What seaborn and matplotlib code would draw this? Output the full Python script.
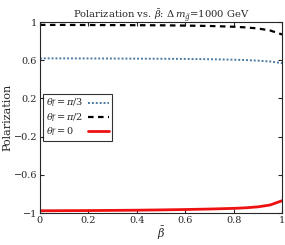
import matplotlib
matplotlib.use("Agg")
import matplotlib.pyplot as plt
import seaborn as sns
import pandas as pd

# data
beta = [0.0, 0.1, 0.2, 0.3, 0.4, 0.5, 0.6, 0.7, 0.8, 0.85, 0.9, 0.95, 1.0]
pol_pi3 = [0.62, 0.62, 0.619, 0.618, 0.617, 0.616, 0.614, 0.611, 0.606, 0.602, 0.596, 0.587, 0.57]
pol_pi2 = [0.97, 0.97, 0.969, 0.968, 0.967, 0.966, 0.963, 0.959, 0.951, 0.944, 0.933, 0.912, 0.87]
pol_0 = [-0.975, -0.974, -0.973, -0.971, -0.969, -0.966, -0.962, -0.957, -0.95, -0.944, -0.934, -0.915, -0.87]

labels = [r"$\theta_{\tilde{l}}=\pi/3$", r"$\theta_{\tilde{l}}=\pi/2$", r"$\theta_{\tilde{l}}=0$"]

df = pd.DataFrame({
    "beta": beta * 3,
    "pol": pol_pi3 + pol_pi2 + pol_0,
    "case": [labels[0]] * len(beta) + [labels[1]] * len(beta) + [labels[2]] * len(beta),
})

sns.set_style("ticks")
plt.rcParams["font.family"] = ["DejaVu Serif"]
plt.rcParams["mathtext.fontset"] = "dejavuserif"

fig = plt.figure(figsize=(2.85, 2.45), dpi=100)
ax = fig.add_axes([0.14, 0.13, 0.85, 0.78])

styles = {labels[0]: ("#4a7aa6", (0, (1, 1)), 1.4),
          labels[1]: ("black", (0, (2.5, 2)), 1.6),
          labels[2]: ("#ee1111", "-", 2.0)}
for lab in labels:
    sub = df[df["case"] == lab]
    c, ls, lw = styles[lab]
    sns.lineplot(data=sub, x="beta", y="pol", ax=ax, color=c, linestyle=ls,
                 linewidth=lw, label=lab)

ax.set_xlim(0, 1)
ax.set_ylim(-1, 1)
ax.set_xticks([0, 0.2, 0.4, 0.6, 0.8, 1])
ax.set_xticklabels(["0", "0.2", "0.4", "0.6", "0.8", "1"])
ax.set_yticks([-1, -0.6, -0.2, 0.2, 0.6, 1])
ax.set_yticklabels(["\u22121", "\u22120.6", "\u22120.2", "0.2", "0.6", "1"])
ax.tick_params(labelsize=7, length=3, direction="in", top=True, right=True, pad=2)
ax.set_xlabel(r"$\bar{\beta}$", fontsize=8, labelpad=0)
ax.set_ylabel("Polarization", fontsize=8, labelpad=1)
ax.set_title(r"Polarization vs. $\bar{\beta}$: $\Delta\,m_{\tilde{g}}$=1000 GeV", fontsize=7.2, pad=2)
for s in ax.spines.values():
    s.set_linewidth(0.8)

leg = ax.legend(loc="center left", bbox_to_anchor=(0.0, 0.5), fontsize=7, markerfirst=False,
                frameon=True, fancybox=False, edgecolor="black", handlelength=2.2,
                borderpad=0.3, labelspacing=0.2, handletextpad=0.5, borderaxespad=0.3)
leg.get_frame().set_linewidth(0.8)

# left-align the labels while keeping the handles on the right
fig.canvas.draw()
r = fig.canvas.get_renderer()
for col in leg._legend_handle_box.get_children():
    items = col.get_children()
    w = max(it.get_bbox(r).width for it in items)
    for it in items:
        it.width = w
        it.mode = "expand"
    col.align = "left"

fig.savefig("out.png", dpi=100)
